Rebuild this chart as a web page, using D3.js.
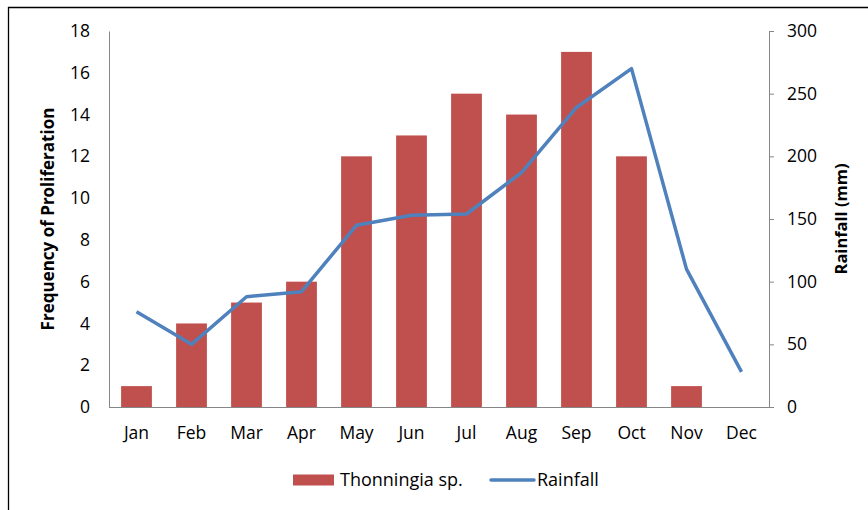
<!DOCTYPE html>
<html>
<head>
<meta charset="utf-8">
<script src="https://cdn.jsdelivr.net/npm/d3@7"></script>
<style>
  body { margin: 0; background: #fff; }
  text { font-family: "Open Sans", Lato, sans-serif; fill: #000; }
</style>
</head>
<body>
<svg id="chart"></svg>
<script>
// Data
var months = ["Jan", "Feb", "Mar", "Apr", "May", "Jun", "Jul", "Aug", "Sep", "Oct", "Nov", "Dec"];
var frequency = [1, 4, 5, 6, 12, 13, 15, 14, 17, 12, 1, 0];
var rainfall = [76, 50, 88, 92, 145, 153, 154, 187, 239, 270, 110, 28];
var freqTicks = [0, 2, 4, 6, 8, 10, 12, 14, 16, 18];
var rainTicks = [0, 50, 100, 150, 200, 250, 300];

var width = 868, height = 510;
var plotLeft = 109, plotRight = 769, plotTop = 31, plotBottom = 407;

var barColour = "#C0504D",
    lineColour = "#4F81BD",
    axisColour = "#868686";

var svg = d3.select("#chart")
    .attr("width", width)
    .attr("height", height);

// Outer frame (only left and top edges show in the picture)
svg.append("path")
    .attr("d", "M8.5," + height + "V7.5H" + width)
    .attr("fill", "none")
    .attr("stroke", "#000")
    .attr("stroke-width", 1.3);

var x = d3.scaleBand()
    .domain(months)
    .range([plotLeft, plotRight])
    .paddingInner(0.44)
    .paddingOuter(0.22);

var yFreq = d3.scaleLinear().domain([0, 18]).range([plotBottom, plotTop]);
var yRain = d3.scaleLinear().domain([0, 300]).range([plotBottom, plotTop]);

// Bars
svg.append("g")
    .selectAll("rect")
    .data(frequency)
    .enter().append("rect")
    .attr("x", function (d, i) { return x(months[i]); })
    .attr("y", function (d) { return yFreq(d); })
    .attr("width", x.bandwidth())
    .attr("height", function (d) { return yFreq(0) - yFreq(d); })
    .attr("fill", barColour);

// Rainfall line
var line = d3.line()
    .x(function (d, i) { return x(months[i]) + x.bandwidth() / 2; })
    .y(function (d) { return yRain(d); });

svg.append("path")
    .datum(rainfall)
    .attr("d", line)
    .attr("fill", "none")
    .attr("stroke", lineColour)
    .attr("stroke-width", 3.5)
    .attr("stroke-linejoin", "round");

// Left axis (no ticks)
var gLeft = svg.append("g")
    .attr("transform", "translate(" + plotLeft + ",0)")
    .call(d3.axisLeft(yFreq).tickValues(freqTicks).tickSize(0).tickPadding(19));
gLeft.select(".domain").attr("stroke", axisColour);
gLeft.selectAll("text").style("font-size", "17.5px").attr("fill", "#000");

// Right axis
var gRight = svg.append("g")
    .attr("transform", "translate(" + plotRight + ",0)")
    .call(d3.axisRight(yRain).tickValues(rainTicks).tickSizeInner(5).tickSizeOuter(5).tickPadding(13));
gRight.select(".domain").attr("stroke", axisColour);
gRight.selectAll("line").attr("stroke", axisColour);
gRight.selectAll("text").style("font-size", "17.5px").attr("fill", "#000");

// Bottom axis
var gBottom = svg.append("g")
    .attr("transform", "translate(0," + plotBottom + ")")
    .call(d3.axisBottom(x).tickSize(0).tickPadding(20));
gBottom.select(".domain").attr("stroke", axisColour)
    .attr("d", "M" + plotLeft + ",0.5H" + (plotRight + 5));
gBottom.selectAll("text").style("font-size", "17.5px").attr("fill", "#000");

// Axis titles
svg.append("text")
    .attr("transform", "translate(54," + (plotTop + plotBottom) / 2 + ") rotate(-90)")
    .style("text-anchor", "middle")
    .style("font-size", "17px")
    .style("font-weight", "bold")
    .text("Frequency of Proliferation");

svg.append("text")
    .attr("transform", "translate(847," + (plotTop + plotBottom) / 2 + ") rotate(-90)")
    .style("text-anchor", "middle")
    .style("font-size", "16.5px")
    .style("font-weight", "bold")
    .text("Rainfall (mm)");

// Legend
var legend = svg.append("g").attr("transform", "translate(0,480)");
legend.append("rect")
    .attr("x", 293).attr("y", -5.5)
    .attr("width", 41).attr("height", 11)
    .attr("fill", barColour);
legend.append("text")
    .attr("x", 340).attr("dy", "0.35em")
    .style("font-size", "18px")
    .text("Thonningia sp.");
legend.append("line")
    .attr("x1", 491).attr("x2", 534)
    .attr("stroke", lineColour)
    .attr("stroke-width", 3.5)
    .attr("stroke-linecap", "round");
legend.append("text")
    .attr("x", 537).attr("dy", "0.35em")
    .style("font-size", "18px")
    .text("Rainfall");
</script>
</body>
</html>
